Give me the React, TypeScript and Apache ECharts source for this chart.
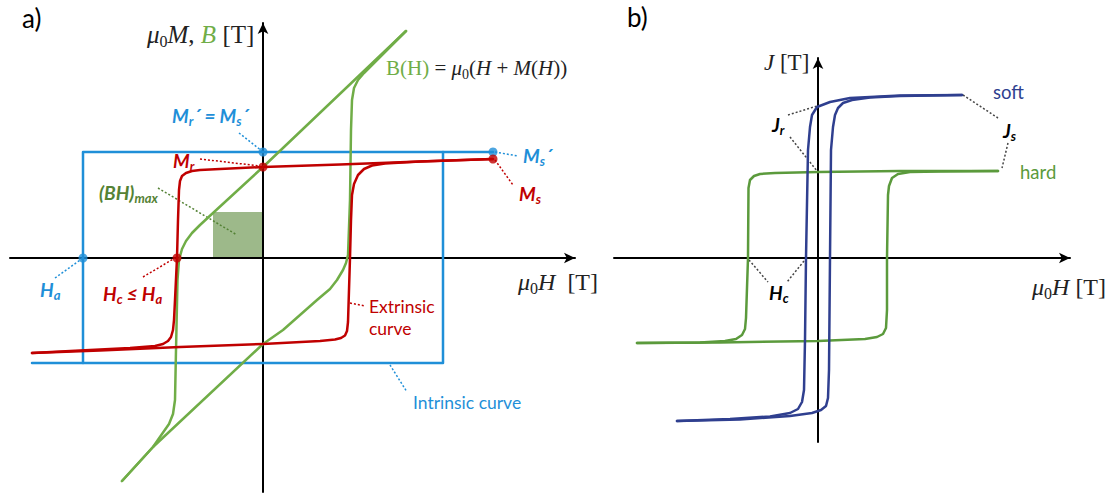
import React, { useEffect, useRef } from "react";
import * as echarts from "echarts";

type Pt = [number, number];
type Seg = [Pt, Pt];

// ---------- a) permanent magnet (units: μ0H and μ0M / B in sketch units) ----------
const extrinsicDescending: Pt[] = [
  [2.3, 0.99], [1.57, 0.965], [0.77, 0.935], [0, 0.91], [-0.43, 0.89], [-0.63, 0.88],
  [-0.71, 0.87], [-0.77, 0.85], [-0.81, 0.82], [-0.83, 0.77], [-0.84, 0.68], [-0.85, 0.38],
  [-0.86, 0], [-0.88, -0.42], [-0.89, -0.62], [-0.9, -0.72], [-0.92, -0.79], [-0.95, -0.83],
  [-1.0, -0.86], [-1.08, -0.88], [-1.33, -0.9], [-1.83, -0.925], [-2.31, -0.95],
];
const extrinsicAscending: Pt[] = [
  [-2.31, -0.95], [-1.63, -0.925], [-0.83, -0.89], [0, -0.86], [0.57, -0.83], [0.72, -0.815],
  [0.78, -0.8], [0.82, -0.775], [0.84, -0.73], [0.85, -0.64], [0.86, -0.32], [0.87, 0],
  [0.88, 0.38], [0.89, 0.63], [0.91, 0.74], [0.95, 0.83], [1.01, 0.89], [1.09, 0.925],
  [1.22, 0.945], [1.57, 0.965], [2.3, 0.99],
];
const inductionDescending: Pt[] = [
  [1.43, 2.27], [0, 0.91], [-0.5, 0.45], [-0.63, 0.33], [-0.71, 0.25], [-0.77, 0.17],
  [-0.81, 0.09], [-0.84, -0.02], [-0.855, -0.22], [-0.87, -0.92], [-0.88, -1.42],
  [-0.9, -1.56], [-0.94, -1.66], [-1.01, -1.76], [-1.1, -1.89], [-1.41, -2.23],
];
const inductionAscending: Pt[] = [
  [-1.41, -2.23], [-1.1, -1.89], [0, -0.86], [0.2, -0.72], [0.37, -0.57], [0.54, -0.42],
  [0.67, -0.31], [0.74, -0.22], [0.8, -0.12], [0.83, -0.05], [0.85, 0.03], [0.87, 0.58],
  [0.88, 1.28], [0.89, 1.58], [0.91, 1.7], [0.95, 1.78], [1.01, 1.85], [1.09, 1.93], [1.43, 2.27],
];
const intrinsicUpper: Pt[] = [[2.3, 1.06], [-1.8, 1.06], [-1.8, -1.05]];
const intrinsicLower: Pt[] = [[-2.31, -1.05], [1.8, -1.05], [1.8, 1.06]];
const intrinsicMarks: Pt[] = [[0, 1.06], [2.3, 1.06], [-1.8, 0]];
const extrinsicMarks: Pt[] = [[0, 0.91], [2.3, 0.99], [-0.86, 0]];
const bhMaxBox: Seg = [[-0.5, 0.46], [-0.01, 0.01]];

const blueLeaders: Seg[] = [
  [[-0.24, 1.25], [-0.01, 1.07]],
  [[2.32, 1.06], [2.55, 1.02]],
  [[-2.08, -0.2], [-1.8, 0]],
  [[1.27, -1.07], [1.44, -1.34]],
];
const redLeaders: Seg[] = [
  [[-0.63, 0.99], [-0.03, 0.92]],
  [[2.32, 0.98], [2.5, 0.73]],
  [[-1.2, -0.19], [-0.88, 0]],
  [[0.87, -0.45], [1.02, -0.48]],
];
const greenLeaders: Seg[] = [[[-1.05, 0.7], [-0.26, 0.23]]];

// ---------- b) soft vs hard magnetic loops ----------
const softDescending: Pt[] = [
  [1.44, 1.63], [0.82, 1.625], [0.32, 1.6], [0.12, 1.56], [-0.01, 1.51], [-0.06, 1.43],
  [-0.08, 1.31], [-0.1, 1.08], [-0.12, 0], [-0.13, -0.82], [-0.14, -1.32], [-0.16, -1.44],
  [-0.2, -1.51], [-0.28, -1.55], [-0.48, -1.585], [-0.88, -1.61], [-1.41, -1.63],
];
const softAscending: Pt[] = [
  [-1.41, -1.63], [-0.78, -1.615], [-0.28, -1.58], [-0.06, -1.55], [0.03, -1.52], [0.08, -1.48],
  [0.1, -1.4], [0.11, -1.12], [0.12, 0], [0.13, 1.08], [0.15, 1.31], [0.17, 1.43], [0.2, 1.5],
  [0.25, 1.55], [0.34, 1.58], [0.52, 1.605], [0.82, 1.62], [1.44, 1.63],
];
const hardDescending: Pt[] = [
  [1.8, 0.87], [0.82, 0.87], [0, 0.86], [-0.43, 0.85], [-0.58, 0.84], [-0.64, 0.82],
  [-0.68, 0.78], [-0.695, 0.7], [-0.7, 0], [-0.72, -0.6], [-0.73, -0.71], [-0.76, -0.77],
  [-0.82, -0.81], [-0.93, -0.83], [-1.18, -0.845], [-1.81, -0.85],
];
const hardAscending: Pt[] = [
  [-1.81, -0.85], [-0.98, -0.845], [0, -0.83], [0.47, -0.81], [0.59, -0.79], [0.65, -0.76],
  [0.68, -0.7], [0.69, -0.52], [0.69, 0], [0.7, 0.63], [0.71, 0.72], [0.74, 0.8], [0.8, 0.84],
  [0.92, 0.86], [1.22, 0.865], [1.8, 0.87],
];
const blackLeaders: Seg[] = [
  [[-0.3, 1.43], [-0.01, 1.52]],
  [[-0.28, 1.21], [-0.01, 0.87]],
  [[1.45, 1.63], [1.8, 1.4]],
  [[1.9, 1.15], [1.84, 0.9]],
  [[-0.69, -0.02], [-0.5, -0.24]],
  [[-0.14, -0.03], [-0.31, -0.24]],
];

const RED = "#c00000";
const BLUE = "#1f8fd8";
const GREEN = "#70ad47";
const DARKGREEN = "#548235";
const SOFT = "#2f3f8f";
const HARD = "#5b9a3c";
const SANS = 'Lato, "Open Sans", sans-serif';
const SERIF = '"Liberation Serif", "DejaVu Serif", serif';

const curve = (data: Pt[], color: string, idx: number, width = 2.5) => ({
  type: "line",
  data,
  xAxisIndex: idx,
  yAxisIndex: idx,
  symbol: "none",
  showSymbol: false,
  clip: false,
  silent: true,
  lineStyle: { color, width, cap: "round", join: "round" },
  z: 3,
});

const leader = (seg: Seg, color: string, idx: number) => ({
  type: "line",
  data: seg,
  xAxisIndex: idx,
  yAxisIndex: idx,
  symbol: "none",
  clip: false,
  silent: true,
  lineStyle: { color, width: 1.5, type: [2, 2] },
  z: 2,
});

const dots = (data: Pt[], color: string) => ({
  type: "scatter",
  data,
  xAxisIndex: 0,
  yAxisIndex: 0,
  symbolSize: 9,
  silent: true,
  itemStyle: { color },
  z: 6,
});

const labelRich = (fill: string) => ({
  b: { fontFamily: SANS, fontSize: 19, fontWeight: "bold", fontStyle: "italic", fill, lineHeight: 24 },
  s: {
    fontFamily: SANS, fontSize: 13, fontWeight: "bold", fontStyle: "italic", fill,
    lineHeight: 10, verticalAlign: "bottom",
  },
});

const mathRich = (size: number) => ({
  i: { fontFamily: SERIF, fontSize: size, fontStyle: "italic", fill: "#222", lineHeight: size + 5 },
  n: { fontFamily: SERIF, fontSize: size, fill: "#222", lineHeight: size + 5 },
  g: { fontFamily: SERIF, fontSize: size, fontStyle: "italic", fill: GREEN, lineHeight: size + 5 },
  gn: { fontFamily: SERIF, fontSize: size, fill: GREEN, lineHeight: size + 5 },
  s: {
    fontFamily: SERIF, fontSize: Math.round(size * 0.65), fill: "#222",
    lineHeight: Math.round(size * 0.5), verticalAlign: "bottom",
  },
});

const richText = (x: number, y: number, text: string, rich: any) => ({
  type: "text",
  x,
  y,
  silent: true,
  z: 10,
  style: { text, rich, align: "left", verticalAlign: "middle", textAlign: "left", textVerticalAlign: "middle" },
});

const plainText = (x: number, y: number, text: string, fill: string, size: number) => ({
  type: "text",
  x,
  y,
  silent: true,
  z: 10,
  style: {
    text,
    fill,
    font: `${size}px ${SANS}`,
    align: "left",
    verticalAlign: "middle",
    textAlign: "left",
    textVerticalAlign: "middle",
  },
});

const axisLine = {
  show: true,
  onZero: true,
  symbol: ["none", "arrow"],
  symbolSize: [8, 11],
  lineStyle: { color: "#000", width: 2 },
};
const hidden = { axisTick: { show: false }, axisLabel: { show: false }, splitLine: { show: false } };

export default function App() {
  const ref = useRef<HTMLDivElement>(null);

  useEffect(() => {
    if (!ref.current) return;
    const chart = echarts.init(ref.current, null, { renderer: "svg" });

    const series: any[] = [
      curve(intrinsicUpper, BLUE, 0),
      curve(intrinsicLower, BLUE, 0),
      {
        ...curve(inductionDescending, GREEN, 0),
        markArea: {
          silent: true,
          itemStyle: { color: "#9db98a", opacity: 1 },
          data: [[{ coord: bhMaxBox[0] }, { coord: bhMaxBox[1] }]],
        },
      },
      curve(inductionAscending, GREEN, 0),
      curve(extrinsicDescending, RED, 0),
      curve(extrinsicAscending, RED, 0),
      ...blueLeaders.map((s) => leader(s, BLUE, 0)),
      ...redLeaders.map((s) => leader(s, RED, 0)),
      ...greenLeaders.map((s) => leader(s, DARKGREEN, 0)),
      dots(intrinsicMarks, BLUE),
      dots(extrinsicMarks, RED),
      curve(hardDescending, HARD, 1),
      curve(hardAscending, HARD, 1),
      curve(softDescending, SOFT, 1),
      curve(softAscending, SOFT, 1),
      ...blackLeaders.map((s) => leader(s, "#444", 1)),
    ];

    const graphic: any[] = [
      plainText(22, 18, "a)", "#000", 26),
      plainText(627, 17, "b)", "#000", 26),
      richText(147, 34, "{i|μ}{s|0}{i|M}{n|, }{g|B}{n| [T]}", mathRich(25)),
      richText(386, 68, "{gn|B(H)}{n| = }{i|μ}{s|0}{n|(}{i|H}{n| + }{i|M}{n|(}{i|H}{n|))}", mathRich(21)),
      richText(518, 282, "{i|μ}{s|0}{i|H}{n|  [T]}", mathRich(24)),
      richText(1032, 287, "{i|μ}{s|0}{i|H}{n| [T]}", mathRich(24)),
      richText(764, 62, "{i|J}{n| [T]}", mathRich(23)),
      richText(172, 115, "{b|M}{s|r}{b|´ = M}{s|s}{b|´}", labelRich(BLUE)),
      richText(173, 160, "{b|M}{s|r}", labelRich(RED)),
      richText(99, 192, "{b|(BH)}{s|max}", labelRich(DARKGREEN)),
      richText(523, 155, "{b|M}{s|s}{b|´}", labelRich(BLUE)),
      richText(519, 193, "{b|M}{s|s}", labelRich(RED)),
      richText(40, 289, "{b|H}{s|a}", labelRich(BLUE)),
      richText(103, 293, "{b|H}{s|c}{b| ≤ H}{s|a}", labelRich(RED)),
      plainText(369, 306, "Extrinsic", RED, 17.5),
      plainText(369, 328, "curve", RED, 17.5),
      plainText(413, 402, "Intrinsic curve", BLUE, 17.5),
      plainText(993, 92, "soft", SOFT, 18.5),
      plainText(1020, 172, "hard", HARD, 18.5),
      richText(1003, 130, "{b|J}{s|s}", labelRich("#000")),
      richText(772, 124, "{b|J}{s|r}", labelRich("#000")),
      richText(769, 292, "{b|H}{s|c}", labelRich("#000")),
    ];

    chart.setOption({
      animation: false,
      backgroundColor: "#fff",
      grid: [
        { left: 10, right: 541, top: 23, bottom: 3 },
        { left: 614, right: 46, top: 58, bottom: 53 },
      ],
      xAxis: [
        { type: "value", gridIndex: 0, min: -2.53, max: 3.12, axisLine, ...hidden },
        { type: "value", gridIndex: 1, min: -2.04, max: 2.52, axisLine, ...hidden },
      ],
      yAxis: [
        { type: "value", gridIndex: 0, min: -2.34, max: 2.35, axisLine, ...hidden },
        { type: "value", gridIndex: 1, min: -1.84, max: 2.0, axisLine, ...hidden },
      ],
      series,
      graphic,
    });

    return () => chart.dispose();
  }, []);

  return (
    <div
      ref={ref}
      style={{ position: "fixed", left: 0, top: 0, width: 1116, height: 495, background: "#fff" }}
    />
  );
}
